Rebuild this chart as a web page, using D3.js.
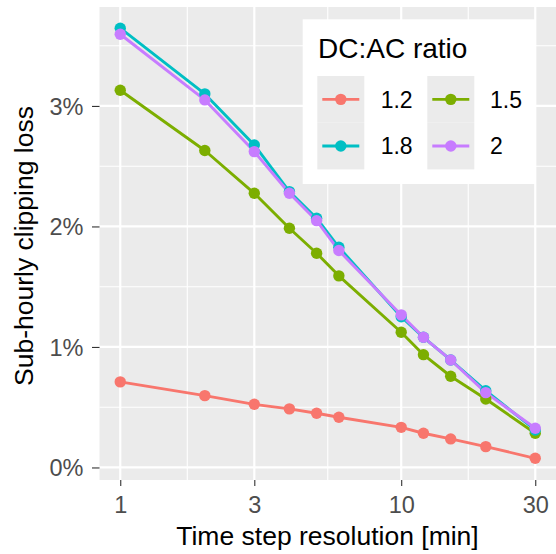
<!DOCTYPE html>
<html>
<head>
<meta charset="utf-8">
<script src="https://cdn.jsdelivr.net/npm/d3@7"></script>
<style>
  html, body { margin: 0; padding: 0; background: #fff; }
  svg { display: block; font-family: "Liberation Sans", Arial, Helvetica, sans-serif; }
</style>
</head>
<body>
<svg id="chart" width="556" height="554"></svg>
<script>
// Time step resolution in minutes (x values)
const timeSteps = [1, 2, 3, 4, 5, 6, 10, 12, 15, 20, 30];
// Sub-hourly clipping loss in percent, one array per DC:AC ratio
const loss12 = [0.71, 0.596, 0.524, 0.486, 0.45, 0.417, 0.333, 0.284, 0.237, 0.173, 0.076];
const loss15 = [3.13, 2.63, 2.275, 1.985, 1.778, 1.59, 1.122, 0.936, 0.757, 0.568, 0.284];
const loss18 = [3.645, 3.10, 2.676, 2.289, 2.068, 1.827, 1.251, 1.08, 0.892, 0.637, 0.311];
const loss20 = [3.595, 3.05, 2.621, 2.275, 2.048, 1.80, 1.266, 1.08, 0.892, 0.621, 0.325];
const ratioLabels = ["1.2", "1.5", "1.8", "2"];
const ratioColors = ["#F8766D", "#7CAE00", "#00BFC4", "#C77CFF"];
const xTicks = [1, 3, 10, 30];
const yTicks = [0, 1, 2, 3];
const yMinor = [0.5, 1.5, 2.5, 3.5];

const series = ratioLabels.map((label, i) => ({
  label,
  color: ratioColors[i],
  values: [loss12, loss15, loss18, loss20][i]
}));

const svg = d3.select("#chart");
const panel = { left: 99.5, right: 556, top: 7, bottom: 480 };

// log x scale with 5% expansion in log space
const lmin = Math.log10(d3.min(timeSteps)), lmax = Math.log10(d3.max(timeSteps));
const lexp = 0.05 * (lmax - lmin);
const x = d3.scaleLog()
  .domain([Math.pow(10, lmin - lexp), Math.pow(10, lmax + lexp)])
  .range([panel.left, panel.right]);
const y = d3.scaleLinear()
  .domain([-0.104, 3.821])
  .range([panel.bottom, panel.top]);

// minor x breaks: midpoints between major breaks in log space
const xMinor = d3.pairs(xTicks).map(([a, b]) => Math.sqrt(a * b));

// panel background
svg.append("rect")
  .attr("x", panel.left).attr("y", panel.top)
  .attr("width", panel.right - panel.left).attr("height", panel.bottom - panel.top)
  .attr("fill", "#EBEBEB");

const grid = svg.append("g").attr("stroke", "#fff");
grid.selectAll(".ymin").data(yMinor).join("line")
  .attr("x1", panel.left).attr("x2", panel.right)
  .attr("y1", d => y(d)).attr("y2", d => y(d)).attr("stroke-width", 1.1);
grid.selectAll(".xmin").data(xMinor).join("line")
  .attr("y1", panel.top).attr("y2", panel.bottom)
  .attr("x1", d => x(d)).attr("x2", d => x(d)).attr("stroke-width", 1.1);
grid.selectAll(".ymaj").data(yTicks).join("line")
  .attr("x1", panel.left).attr("x2", panel.right)
  .attr("y1", d => y(d)).attr("y2", d => y(d)).attr("stroke-width", 2.2);
grid.selectAll(".xmaj").data(xTicks).join("line")
  .attr("y1", panel.top).attr("y2", panel.bottom)
  .attr("x1", d => x(d)).attr("x2", d => x(d)).attr("stroke-width", 2.2);

// lines first, then points
const line = d3.line().x((d, i) => x(timeSteps[i])).y(d => y(d));
svg.append("g").selectAll("path").data(series).join("path")
  .attr("d", s => line(s.values))
  .attr("fill", "none")
  .attr("stroke", s => s.color)
  .attr("stroke-width", 2.9)
  .attr("stroke-linejoin", "round");

const pts = svg.append("g");
series.forEach(s => {
  pts.append("g").selectAll("circle").data(s.values).join("circle")
    .attr("cx", (d, i) => x(timeSteps[i]))
    .attr("cy", d => y(d))
    .attr("r", 5.7)
    .attr("fill", s.color);
});

// axes
const xAxis = svg.append("g")
  .attr("transform", `translate(0,${panel.bottom})`)
  .call(d3.axisBottom(x).tickValues(xTicks).tickFormat(d3.format("d")).tickSize(6).tickPadding(10));
const yAxis = svg.append("g")
  .attr("transform", `translate(${panel.left},0)`)
  .call(d3.axisLeft(y).tickValues(yTicks).tickFormat(d => d + "%").tickSize(7.5).tickPadding(8.5));
[xAxis, yAxis].forEach(a => {
  a.select(".domain").remove();
  a.selectAll(".tick line").attr("stroke", "#333333").attr("stroke-width", 1.1);
  a.selectAll(".tick text")
    .attr("fill", "#4D4D4D")
    .style("font-size", "23.5px")
    .style("font-family", "'Liberation Sans', Arial, sans-serif");
});
yAxis.selectAll(".tick text").attr("dy", "0.36em");

// axis titles
svg.append("text")
  .attr("x", 327.5).attr("y", 545)
  .attr("text-anchor", "middle")
  .style("font-size", "26.5px")
  .attr("fill", "#000")
  .text("Time step resolution [min]");
svg.append("text")
  .attr("transform", "translate(33.3,246) rotate(-90)")
  .attr("text-anchor", "middle")
  .style("font-size", "26.5px")
  .attr("fill", "#000")
  .text("Sub-hourly clipping loss");

// legend
const legend = svg.append("g");
legend.append("rect")
  .attr("x", 302.7).attr("y", 19.3).attr("width", 232.3).attr("height", 164.7)
  .attr("fill", "#fff");
legend.append("text")
  .attr("x", 318).attr("y", 58.3)
  .style("font-size", "28px")
  .attr("fill", "#000")
  .text("DC:AC ratio");

const keyW = 47, keyH = 46.7;
const colX = [317.3, 427.3];
const labelX = [380.7, 490];
const rowY = [76, 122.7];
series.forEach((s, i) => {
  const c = i % 2, r = Math.floor(i / 2);
  const g = legend.append("g");
  g.append("rect")
    .attr("x", colX[c]).attr("y", rowY[r]).attr("width", keyW).attr("height", keyH)
    .attr("fill", "#EBEBEB");
  const cy = rowY[r] + keyH / 2;
  g.append("line")
    .attr("x1", colX[c] + 5).attr("x2", colX[c] + keyW - 5)
    .attr("y1", cy).attr("y2", cy)
    .attr("stroke", s.color).attr("stroke-width", 2.9);
  g.append("circle")
    .attr("cx", colX[c] + keyW / 2).attr("cy", cy).attr("r", 5.7)
    .attr("fill", s.color);
  g.append("text")
    .attr("x", labelX[c]).attr("y", cy + 8.3)
    .style("font-size", "23px")
    .attr("fill", "#000")
    .text(s.label);
});
</script>
</body>
</html>
